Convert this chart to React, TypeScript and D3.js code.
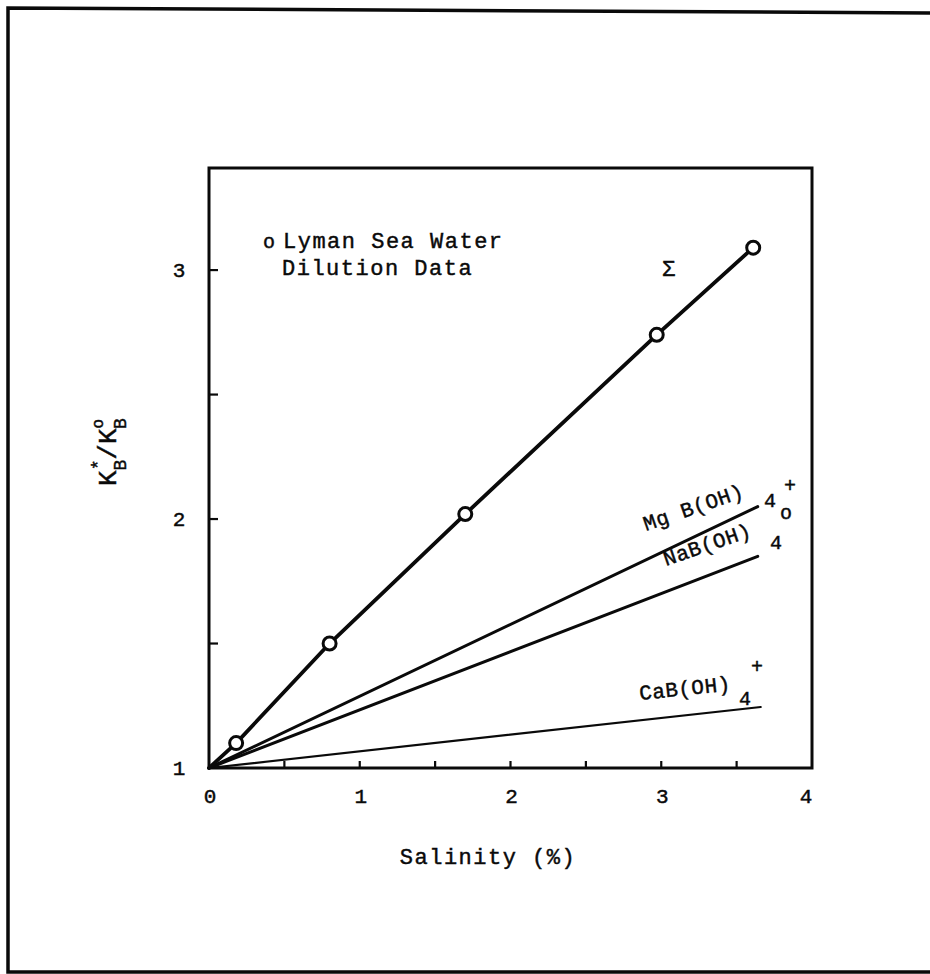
import React from 'react';
import * as d3 from 'd3';

// Axis ticks
const salinityTicks = [0, 1, 2, 3, 4];
const salinityMinor = [0.5, 1, 1.5, 2, 2.5, 3, 3.5];
const ratioTicks = [1, 2, 3];
const ratioMinor = [1.5, 2, 2.5, 3];

// Lyman sea water dilution data (open circles)
const lymanSalinity = [0.18, 0.8, 1.7, 2.97, 3.61];
const lymanRatio = [1.1, 1.5, 2.02, 2.74, 3.09];

// Curves: total (Σ) and the individual ion-pair contributions
const sumSalinity = [0, 0.18, 0.8, 1.7, 2.97, 3.61];
const sumRatio = [1, 1.1, 1.5, 2.02, 2.74, 3.09];
const mgSalinity = [0, 3.64];
const mgRatio = [1, 2.05];
const naSalinity = [0, 3.64];
const naRatio = [1, 1.85];
const caSalinity = [0, 3.66];
const caRatio = [1, 1.245];

const W = 930;
const H = 974;
const plot = { left: 209, right: 812, top: 168, bottom: 768 };

const mono = '"Liberation Mono", "DejaVu Sans Mono", monospace';
const ink = '#0a0a0a';

// typewriter-style text: slightly heavier strokes
const tw = { fontFamily: mono, fill: ink, stroke: ink, strokeWidth: 0.45 };

export default function App() {
  const x = d3.scaleLinear().domain([0, 4]).range([plot.left, plot.right]);
  const y = d3.scaleLinear().domain([1, 3.41]).range([plot.bottom, plot.top]);

  const line = d3
    .line<[number, number]>()
    .x((d) => x(d[0]))
    .y((d) => y(d[1]));

  const zip = (xs: number[], ys: number[]) =>
    xs.map((v, i) => [v, ys[i]] as [number, number]);

  return (
    <svg
      width={W}
      height={H}
      viewBox={`0 0 ${W} ${H}`}
      style={{ position: 'absolute', left: 0, top: 0, background: '#fff' }}
    >
      {/* outer page frame */}
      <path
        d={`M930,13 L8,8 L8,972 L930,972`}
        fill="none"
        stroke={ink}
        strokeWidth={3.5}
      />

      {/* plot frame */}
      <rect
        x={plot.left}
        y={plot.top}
        width={plot.right - plot.left}
        height={plot.bottom - plot.top}
        fill="none"
        stroke={ink}
        strokeWidth={3}
      />

      {/* inward ticks */}
      {salinityMinor.map((t) => (
        <line
          key={'xt' + t}
          x1={x(t)}
          x2={x(t)}
          y1={plot.bottom}
          y2={plot.bottom - 7}
          stroke={ink}
          strokeWidth={2.2}
        />
      ))}
      {ratioMinor.map((t) => (
        <line
          key={'yt' + t}
          x1={plot.left}
          x2={plot.left + 9}
          y1={y(t)}
          y2={y(t)}
          stroke={ink}
          strokeWidth={2.2}
        />
      ))}

      {/* tick labels */}
      {salinityTicks.map((t) => (
        <text
          key={'xl' + t}
          {...tw}
          x={t === 4 ? x(t) - 6 : x(t) + 1}
          y={797}
          textAnchor="middle"
          dominantBaseline="central"
          fontSize={21}
        >
          {t}
        </text>
      ))}
      {ratioTicks.map((t) => (
        <text
          key={'yl' + t}
          {...tw}
          x={179}
          y={y(t) + 1}
          textAnchor="middle"
          dominantBaseline="central"
          fontSize={21}
        >
          {t}
        </text>
      ))}

      {/* axis titles */}
      <text
        {...tw}
        x={488}
        y={858}
        textAnchor="middle"
        dominantBaseline="central"
        fontSize={22}
        letterSpacing={1.5}
      >
        Salinity (%)
      </text>
      <text
        {...tw}
        transform="translate(116,452) rotate(-90)"
        textAnchor="middle"
        fontSize={26}
      >
        <tspan>K</tspan>
        <tspan fontSize={18} dy={-12}>*</tspan>
        <tspan fontSize={18} dx={-11} dy={22}>B</tspan>
        <tspan dy={-10}>/K</tspan>
        <tspan fontSize={16} dy={-13}>o</tspan>
        <tspan fontSize={18} dx={-10} dy={23}>B</tspan>
      </text>

      {/* curves */}
      <path d={line(zip(caSalinity, caRatio)) || ''} fill="none" stroke={ink} strokeWidth={2.2} strokeLinecap="round" />
      <path d={line(zip(naSalinity, naRatio)) || ''} fill="none" stroke={ink} strokeWidth={3} strokeLinecap="round" />
      <path d={line(zip(mgSalinity, mgRatio)) || ''} fill="none" stroke={ink} strokeWidth={3} strokeLinecap="round" />
      <path d={line(zip(sumSalinity, sumRatio)) || ''} fill="none" stroke={ink} strokeWidth={3.8} strokeLinecap="round" strokeLinejoin="round" />

      {/* Lyman data points */}
      {lymanSalinity.map((s, i) => (
        <circle
          key={'pt' + i}
          cx={x(s)}
          cy={y(lymanRatio[i])}
          r={6.5}
          fill="#fff"
          stroke={ink}
          strokeWidth={3}
        />
      ))}

      {/* legend */}
      <text {...tw} x={263} y={248} fontSize={20}>o</text>
      <text {...tw} x={283} y={248} fontSize={22} letterSpacing={1.5}>
        Lyman Sea Water
      </text>
      <text {...tw} x={282} y={275} fontSize={22} letterSpacing={1.5}>
        Dilution Data
      </text>

      {/* curve labels */}
      <text {...tw} x={662} y={276} fontSize={22}>Σ</text>

      <g transform="translate(646,531) rotate(-19)">
        <text {...tw} fontSize={21} letterSpacing={0.5}>Mg B(OH)</text>
      </g>
      <text {...tw} x={770} y={507} textAnchor="middle" fontSize={20}>4</text>
      <text {...tw} x={790} y={492} textAnchor="middle" fontSize={20}>+</text>

      <g transform="translate(666,566) rotate(-19)">
        <text {...tw} fontSize={21} letterSpacing={0.5}>NaB(OH)</text>
      </g>
      <text {...tw} x={786} y={519} textAnchor="middle" fontSize={20}>o</text>
      <text {...tw} x={776} y={549} textAnchor="middle" fontSize={20}>4</text>

      <g transform="translate(640,700) rotate(-6)">
        <text {...tw} fontSize={21} letterSpacing={0.5}>CaB(OH)</text>
      </g>
      <text {...tw} x={745} y={705} textAnchor="middle" fontSize={20}>4</text>
      <text {...tw} x={757} y={673} textAnchor="middle" fontSize={20}>+</text>
    </svg>
  );
}
